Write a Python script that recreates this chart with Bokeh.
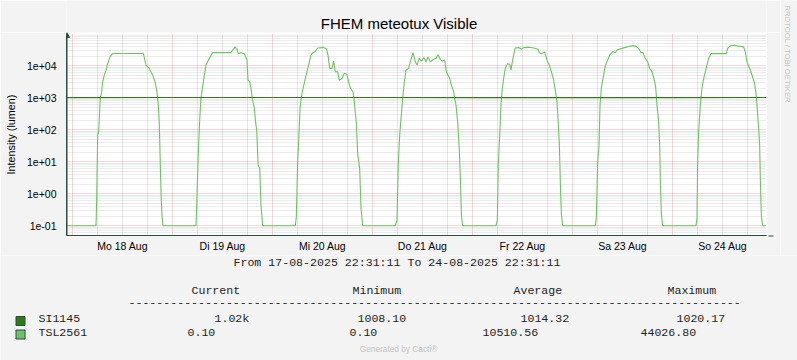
import pandas as pd
from bokeh.plotting import figure
from bokeh.layouts import column, row
from bokeh.models import (Range1d, FixedTicker, CustomJSTickFormatter, Arrow, NormalHead)
from bokeh.core.properties import value
from bokeh.embed import file_html
from bokeh.resources import INLINE

# ---------------- data ----------------
TITLE = "FHEM meteotux Visible"
Y_LABEL = "Intensity (lumen)"
SIDE_TEXT = "RRDTOOL / TOBI OETIKER"
FOOTER = "Generated by Cacti\u00ae"
START = "2025-08-17 22:31:11"
END = "2025-08-24 22:31:11"
RANGE_TEXT = "From 17-08-2025 22:31:11 To 24-08-2025 22:31:11"

x_tick_dates = ["2025-08-18 12:00", "2025-08-19 12:00", "2025-08-20 12:00", "2025-08-21 12:00",
                "2025-08-22 12:00", "2025-08-23 12:00", "2025-08-24 12:00"]
x_tick_labels = ["Mo 18 Aug", "Di 19 Aug", "Mi 20 Aug", "Do 21 Aug", "Fr 22 Aug", "Sa 23 Aug", "So 24 Aug"]
y_tick_values = [0.1, 1, 10, 100, 1000, 10000]
y_tick_labels = ["1e-01", "1e+00", "1e+01", "1e+02", "1e+03", "1e+04"]

tsl_times = [
    "08-17 22:31",
    "08-18 05:36", "08-18 05:45", "08-18 06:00", "08-18 06:15", "08-18 06:38", "08-18 06:58", "08-18 07:12",
    "08-18 07:36", "08-18 08:00", "08-18 08:24", "08-18 08:58", "08-18 09:36", "08-18 16:58", "08-18 17:36",
    "08-18 18:24", "08-18 19:12", "08-18 19:46", "08-18 20:14", "08-18 20:34", "08-18 20:48", "08-18 21:12",
    "08-18 21:26", "08-18 21:41",
    "08-19 05:36", "08-19 05:46", "08-19 06:05", "08-19 06:19", "08-19 06:38", "08-19 06:48", "08-19 07:12",
    "08-19 07:36", "08-19 08:00", "08-19 08:34", "08-19 09:36", "08-19 14:00", "08-19 14:24", "08-19 14:58",
    "08-19 15:26", "08-19 15:46", "08-19 16:24", "08-19 17:12", "08-19 17:50", "08-19 18:05", "08-19 18:30",
    "08-19 18:48", "08-19 19:06", "08-19 19:36", "08-19 19:54", "08-19 20:12", "08-19 20:30", "08-19 20:54",
    "08-19 21:12", "08-19 21:36",
    "08-20 05:26", "08-20 05:41", "08-20 06:00", "08-20 06:14", "08-20 06:34", "08-20 06:53", "08-20 07:17",
    "08-20 07:50", "08-20 08:14", "08-20 08:38", "08-20 09:12", "08-20 09:41", "08-20 10:14", "08-20 10:48",
    "08-20 12:05", "08-20 12:53", "08-20 13:17", "08-20 13:41", "08-20 14:14", "08-20 14:38", "08-20 15:02",
    "08-20 15:36", "08-20 16:00", "08-20 16:38", "08-20 17:12", "08-20 17:50", "08-20 18:14", "08-20 18:38",
    "08-20 19:17", "08-20 19:36", "08-20 20:05", "08-20 20:24", "08-20 20:53", "08-20 21:12", "08-20 21:36",
    "08-21 05:26", "08-21 05:50", "08-21 06:10", "08-21 06:29", "08-21 06:48", "08-21 07:12", "08-21 07:36",
    "08-21 08:00", "08-21 08:38", "08-21 09:02", "08-21 09:41", "08-21 10:14", "08-21 10:38", "08-21 11:12",
    "08-21 11:42", "08-21 12:16", "08-21 12:48", "08-21 13:18", "08-21 13:50", "08-21 14:38", "08-21 15:12",
    "08-21 15:41", "08-21 16:14", "08-21 16:38", "08-21 17:17", "08-21 17:41", "08-21 18:05", "08-21 18:29",
    "08-21 18:53", "08-21 19:26", "08-21 19:41", "08-21 20:00", "08-21 20:24", "08-21 20:48", "08-21 21:06",
    "08-21 21:18", "08-21 21:36",
    "08-22 05:36", "08-22 05:55", "08-22 06:10", "08-22 06:19", "08-22 06:34", "08-22 06:48", "08-22 07:02",
    "08-22 07:26", "08-22 07:50", "08-22 08:19", "08-22 08:53", "08-22 09:12", "08-22 09:31", "08-22 09:50",
    "08-22 10:14", "08-22 11:02", "08-22 11:41", "08-22 12:14", "08-22 13:26", "08-22 14:38", "08-22 15:41",
    "08-22 16:00", "08-22 16:38", "08-22 17:17", "08-22 17:50", "08-22 18:24", "08-22 18:53", "08-22 19:22",
    "08-22 19:50", "08-22 20:14", "08-22 20:29", "08-22 20:48", "08-22 21:02", "08-22 21:17", "08-22 21:36",
    "08-23 05:26", "08-23 05:41", "08-23 06:00", "08-23 06:19", "08-23 06:34", "08-23 06:53", "08-23 07:17",
    "08-23 07:50", "08-23 08:24", "08-23 08:53", "08-23 09:41", "08-23 10:14", "08-23 10:38", "08-23 11:50",
    "08-23 13:02", "08-23 14:14", "08-23 15:02", "08-23 15:50", "08-23 16:24", "08-23 16:53", "08-23 17:26",
    "08-23 18:00", "08-23 18:29", "08-23 19:02", "08-23 19:36", "08-23 19:55", "08-23 20:14", "08-23 20:38",
    "08-23 20:53", "08-23 21:02", "08-23 21:17", "08-23 21:36",
    "08-24 05:36", "08-24 05:50", "08-24 06:00", "08-24 06:14", "08-24 06:38", "08-24 07:02", "08-24 07:26",
    "08-24 07:50", "08-24 08:14", "08-24 08:38", "08-24 09:12", "08-24 12:53", "08-24 13:12", "08-24 13:50",
    "08-24 14:48", "08-24 15:50", "08-24 17:02", "08-24 17:26", "08-24 17:50", "08-24 18:14", "08-24 18:48",
    "08-24 19:17", "08-24 19:41", "08-24 20:00", "08-24 20:14", "08-24 20:38", "08-24 20:53", "08-24 21:02",
    "08-24 21:17", "08-24 21:36", "08-24 22:25",
]
tsl_values = [
    0.1,
    0.1, 0.56, 68, 90, 1000, 1550, 3160,
    5100, 7300, 11700, 19000, 24300, 24300, 10500,
    8300, 5100, 3160, 1550, 590, 140, 1.15,
    0.21, 0.1,
    0.1, 0.44, 10, 68, 465, 1000, 2200,
    5100, 10500, 15000, 25700, 25700, 31000, 39000,
    33000, 24000, 25700, 24000, 15000, 3550, 3160,
    1950, 950, 465, 180, 87, 8, 6.2,
    0.44, 0.1,
    0.1, 0.19, 10, 42, 465, 1070, 1950,
    4000, 6500, 10500, 21500, 25700, 28000, 36000,
    37000, 34500, 21500, 8300, 8300, 14000, 6500,
    6500, 3550, 4000, 5800, 5400, 3160, 2050,
    1550, 750, 160, 18, 6.2, 0.35, 0.1,
    0.1, 0.15, 10, 68, 220, 950, 3160,
    7300, 8300, 13300, 25700, 13300, 10500, 17000,
    14000, 18000, 13300, 19000, 13300, 16000, 17000,
    22000, 16000, 14000, 15000, 6500, 5100, 4000,
    2500, 1550, 950, 590, 180, 23, 1.9,
    0.21, 0.1,
    0.1, 0.15, 10, 23, 110, 590, 1550,
    4000, 8300, 11700, 11000, 7300, 13300, 21500,
    36000, 37000, 33000, 37000, 38000, 36000, 33000,
    25700, 24000, 27000, 15000, 10500, 6500, 4000,
    1700, 750, 220, 37, 2.4, 0.24, 0.1,
    0.1, 0.19, 10, 30, 590, 2050, 4000,
    10000, 15000, 21500, 28000, 25700, 31000, 35000,
    39000, 42000, 42000, 35000, 25700, 25700, 17000,
    13300, 8300, 6500, 3550, 2200, 590, 180,
    33, 3, 0.24, 0.1,
    0.1, 0.17, 10, 87, 590, 1950, 4000,
    6500, 10500, 17000, 24000, 24000, 35000, 42000,
    44026.8, 41000, 39000, 27000, 13300, 10000, 6500,
    4000, 2800, 1400, 590, 110, 33, 3,
    0.21, 0.1, 0.1,
]

si_times = ["08-17 22:31", "08-18 00:00", "08-19 00:00", "08-20 00:00", "08-21 00:00",
            "08-22 00:00", "08-23 00:00", "08-24 00:00", "08-24 22:25"]
si_values = [1012.4, 1010.8, 1015.6, 1018.9, 1020.17, 1013.2, 1008.1, 1011.5, 1019.6]

legend_names = ["SI1145", "TSL2561"]
legend_colors = ["#2F7A13", "#6DC263"]
legend_current = ["1.02k", "0.10"]
legend_minimum = ["1008.10", "0.10"]
legend_average = ["1014.32", "10510.56"]
legend_maximum = ["1020.17", "44026.80"]
legend_headers = ["Current", "Minimum", "Average", "Maximum"]


def ms(s):
    return float(pd.Timestamp(s).value // 10**6)


def ms_list(lst):
    return [ms("2025-" + t) for t in lst]


# ---------------- layout (page pixels) ----------------
W, H = 797, 360
MAIN_W = 780          # main column width; side strip takes the rest
TOP_H = 32            # title strip height
UPPER_H = 255         # title strip + main plot height
FRAME_LEFT, FRAME_RIGHT = 66, 766
FRAME_TOP, FRAME_BOTTOM = 33, 235
BG = "#F3F3F3"
AXIS_COLOR = "#2C4D43"
MONO = "Liberation Mono"
MONO_PX = 11.6
TEXT_COLOR = "#1e1e1e"
SHIFT = 0.38          # svg text baseline correction, in em


def base(y, px):
    return y - SHIFT * px


def blank(w, h, x0, x1, y_top, y_bottom, left=0, right=0):
    f = figure(width=w, height=h, x_range=Range1d(x0, x1), y_range=Range1d(y_bottom, y_top),
               x_axis_location=None, y_axis_location=None, toolbar_location=None,
               output_backend="svg", min_border=0, min_border_left=left, min_border_right=right,
               outline_line_color=None, background_fill_color=BG, border_fill_color=BG, title=None)
    f.grid.visible = False
    return f


# title strip (frame aligned with the main plot frame)
p_top = blank(MAIN_W, TOP_H, FRAME_LEFT, FRAME_RIGHT, 0, TOP_H,
              left=FRAME_LEFT, right=MAIN_W - FRAME_RIGHT)
p_top.text(x=[398.5], y=[base(28.5, 15)], text=[TITLE], text_font=value("Liberation Sans"),
           text_font_size=value("15px"), text_color="#000000", text_align="center",
           text_baseline="alphabetic")

# side strip
p_side = blank(W - MAIN_W, UPPER_H, MAIN_W, W, 0, UPPER_H)
p_side.text(x=[787], y=[5], text=[SIDE_TEXT], text_font=value("Liberation Sans"),
            text_font_size=value("7.7px"), text_color="#C4C4C4", text_align="left",
            text_baseline="middle", angle=-1.5708)

# main plot
MAIN_H = UPPER_H - TOP_H
p = figure(width=MAIN_W, height=MAIN_H, x_axis_type="datetime", y_axis_type="log",
           x_range=Range1d(ms(START), ms(END)), y_range=Range1d(0.0498, 1.02e5),
           output_backend="svg", toolbar_location=None, title=None,
           min_border_left=FRAME_LEFT, min_border_right=MAIN_W - FRAME_RIGHT,
           min_border_top=FRAME_TOP - TOP_H, min_border_bottom=UPPER_H - FRAME_BOTTOM,
           background_fill_color="white", border_fill_color=BG, outline_line_color=None)

midnights = [ms("2025-08-%02d 00:00" % d) for d in range(18, 25)]
six_hours = [m + h * 3600000.0 for m in midnights for h in (6, 12, 18)]
p.xgrid.ticker = FixedTicker(ticks=midnights, minor_ticks=six_hours)
p.xgrid.grid_line_color = "#DE5050"
p.xgrid.grid_line_alpha = 0.45
p.xgrid.grid_line_dash = "1 1"
p.xgrid.minor_grid_line_color = "#8F8F8F"
p.xgrid.minor_grid_line_alpha = 0.45
p.xgrid.minor_grid_line_dash = "1 1"

y_minor = [m * 10.0 ** e for e in range(-2, 5) for m in range(2, 10)]
p.ygrid.ticker = FixedTicker(ticks=y_tick_values, minor_ticks=y_minor)
p.ygrid.grid_line_color = "#DE5050"
p.ygrid.grid_line_alpha = 0.45
p.ygrid.grid_line_dash = "1 1"
p.ygrid.minor_grid_line_color = "#8F8F8F"
p.ygrid.minor_grid_line_alpha = 0.35
p.ygrid.minor_grid_line_dash = "1 1"

fmt_code = """
for (let i = 0; i < vals.length; i++) {
  if (Math.abs(vals[i] - tick) <= 1e-9 * Math.max(1, Math.abs(tick))) return labs[i];
}
return "";
"""
noons = [ms(s) for s in x_tick_dates]
p.xaxis.ticker = FixedTicker(ticks=noons)
p.xaxis.formatter = CustomJSTickFormatter(args=dict(vals=noons, labs=x_tick_labels), code=fmt_code)
p.yaxis.ticker = FixedTicker(ticks=y_tick_values)
p.yaxis.formatter = CustomJSTickFormatter(args=dict(vals=y_tick_values, labs=y_tick_labels), code=fmt_code)

p.axis.axis_line_color = AXIS_COLOR
p.axis.major_tick_line_color = None
p.axis.minor_tick_line_color = None
p.axis.major_tick_out = 0
p.axis.major_tick_in = 0
p.axis.minor_tick_out = 0
p.axis.minor_tick_in = 0
p.axis.major_label_text_font = "Liberation Sans"
p.axis.major_label_text_font_size = "10.5px"
p.axis.major_label_text_color = "#000000"
p.yaxis.major_label_standoff = 10
p.xaxis.major_label_standoff = 4
p.yaxis.axis_label = Y_LABEL
p.yaxis.axis_label_text_font = "Liberation Sans"
p.yaxis.axis_label_text_font_size = "10.8px"
p.yaxis.axis_label_text_font_style = "normal"
p.yaxis.axis_label_text_color = "#000000"
p.yaxis.axis_label_standoff = 7

p.line(ms_list(tsl_times), tsl_values, line_color=legend_colors[1], line_width=1.1)
p.line(ms_list(si_times), si_values, line_color=legend_colors[0], line_width=1.1)

# axis arrows (screen units relative to the plot frame)
frame_h = FRAME_BOTTOM - FRAME_TOP
p.add_layout(Arrow(end=NormalHead(size=5, fill_color=AXIS_COLOR, line_color=AXIS_COLOR),
                   x_start=0.5, y_start=0, x_end=0.5, y_end=frame_h + (FRAME_TOP - TOP_H),
                   start_units="screen", end_units="screen", line_color=AXIS_COLOR, line_width=1))
p.add_layout(Arrow(end=NormalHead(size=5, fill_color=AXIS_COLOR, line_color=AXIS_COLOR),
                   x_start=0, y_start=-0.5, x_end=773 - FRAME_LEFT, y_end=-0.5,
                   start_units="screen", end_units="screen", line_color=AXIS_COLOR, line_width=1))

# legend strip
p_leg = blank(W, H - UPPER_H, 0, W, UPPER_H, H)
txt_x, txt_y, txt_s = [], [], []


def put(t, x, y):
    txt_s.append(t)
    txt_x.append(x)
    txt_y.append(base(y, MONO_PX))


put(RANGE_TEXT, 233, 266.5)
for h_, x_ in zip(legend_headers, [191, 352, 513, 667]):
    put(h_, x_, 294.5)
put("-" * 88, 128, 306.5)
row_y = [322.7, 336.7]
for i in range(2):
    put(legend_names[i], 38, row_y[i])
for vals_, xs_ in zip([legend_current, legend_minimum, legend_average, legend_maximum],
                      [[214, 187], [357, 349], [520, 482], [676, 640]]):
    for i in range(2):
        put(vals_[i], xs_[i], row_y[i])

p_leg.text(x=txt_x, y=txt_y, text=txt_s, text_font=value(MONO), text_font_size=value("%.1fpx" % MONO_PX),
           text_color=TEXT_COLOR, text_align="left", text_baseline="alphabetic")
p_leg.quad(left=[15.5, 15.5], right=[24.5, 24.5], top=[316, 329.5], bottom=[325, 338.5],
           fill_color=legend_colors, line_color=AXIS_COLOR, line_width=1)
p_leg.text(x=[398], y=[base(351.5, 8.3)], text=[FOOTER], text_font=value("Liberation Sans"),
           text_font_size=value("8.3px"), text_color="#C4C4C4", text_align="center",
           text_baseline="alphabetic")

layout = column(row(column(p_top, p, spacing=0), p_side, spacing=0), p_leg, spacing=0)

open("out.html", "w").write(file_html(layout, INLINE))
